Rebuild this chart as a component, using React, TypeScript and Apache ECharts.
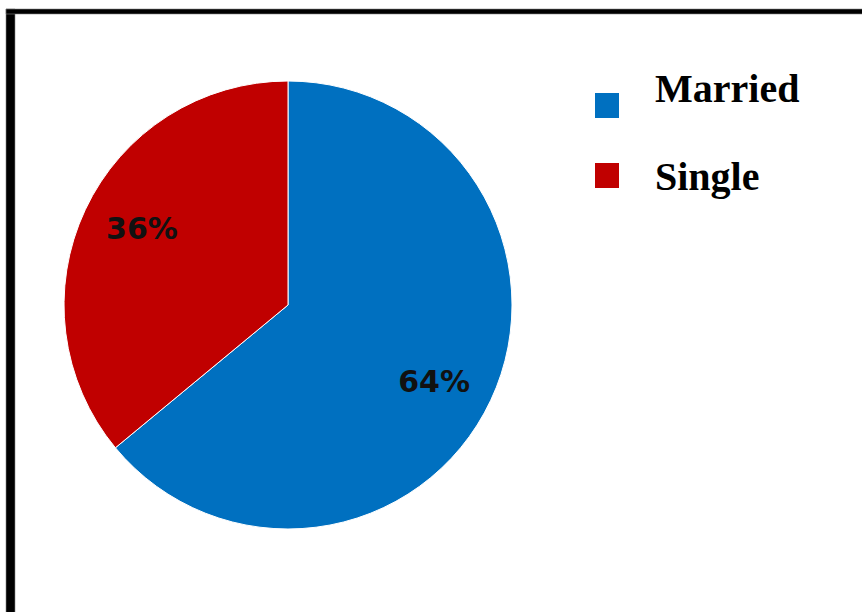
import React, { useEffect, useRef } from "react";
import * as echarts from "echarts";

const categories = ["Married", "Single"];
const values = [64, 36];
const colors = ["#0070C0", "#C00000"];

export default function App() {
  const ref = useRef<HTMLDivElement>(null);
  useEffect(() => {
    if (!ref.current) return;
    const chart = echarts.init(ref.current, null, { renderer: "svg" });
    const data = categories.map((name, i) => ({
      name,
      value: values[i],
      itemStyle: { color: colors[i] },
    }));
    const legendTop = [88, 176];
    const boxTop = [93, 163];
    const graphic: any[] = [
      { type: "rect", shape: { x: 6, y: 9, width: 9, height: 620 }, style: { fill: "#000", stroke: "#888", lineWidth: 0.6 } },
      { type: "rect", shape: { x: 6, y: 9, width: 870, height: 5 }, style: { fill: "#000", stroke: "#888", lineWidth: 0.6 } },
    ];
    categories.forEach((name, i) => {
      graphic.push({
        type: "rect",
        shape: { x: 595, y: boxTop[i], width: 24, height: 25 },
        style: { fill: colors[i] },
      });
      graphic.push({
        type: "text",
        x: 655,
        y: legendTop[i],
        style: {
          text: name,
          fill: "#000",
          font: "bold 40px 'Liberation Serif'",
          verticalAlign: "middle",
          align: "left",
        },
      });
    });
    chart.setOption({
      animation: false,
      backgroundColor: "#fff",
      graphic,
      series: [
        {
          type: "pie",
          center: [288, 305],
          radius: [0, 224],
          startAngle: 90,
          clockwise: true,
          data,
          label: { show: false },
          labelLine: { show: false },
          itemStyle: { borderColor: "#fff", borderWidth: 1 },
          silent: true,
        },
        {
          type: "pie",
          center: [288, 305],
          radius: [100, 224],
          startAngle: 87.5,
          clockwise: true,
          data: categories.map((name, i) => ({ name, value: values[i] })),
          itemStyle: { color: "transparent" },
          label: {
            show: true,
            position: "inside",
            formatter: "{c}%",
            color: "#111",
            fontFamily: "DejaVu Sans",
            fontWeight: "bold",
            fontSize: 30,
          },
          labelLine: { show: false },
          silent: true,
        },
      ],
    });
    return () => chart.dispose();
  }, []);
  return (
    <div
      ref={ref}
      style={{ position: "fixed", left: 0, top: 0, width: 862, height: 612 }}
    />
  );
}
